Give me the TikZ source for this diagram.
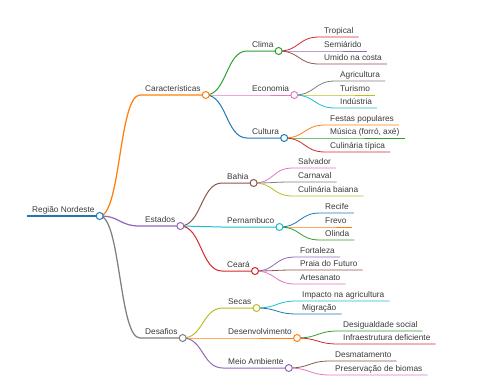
\documentclass[tikz,border=0pt]{standalone}
\usepackage{fontspec}
\setmainfont{Liberation Sans}
\usepackage{xcolor}
\usepackage{tikz}
\usetikzlibrary{positioning}
\definecolor{mmblue}{HTML}{1F77B4}
\definecolor{mmorange}{HTML}{FF7F0E}
\definecolor{mmgreen}{HTML}{2CA02C}
\definecolor{mmred}{HTML}{D62728}
\definecolor{mmpurple}{HTML}{9467BD}
\definecolor{mmbrown}{HTML}{8C564B}
\definecolor{mmpink}{HTML}{E377C2}
\definecolor{mmgray}{HTML}{7F7F7F}
\definecolor{mmolive}{HTML}{BCBD22}
\definecolor{mmcyan}{HTML}{17BECF}
\definecolor{txtgray}{HTML}{3A3A3A}
\tikzset{
  topic/.style={anchor=south west, inner xsep=5pt, inner ysep=0pt, text depth=3pt, text=txtgray, font=\fontsize{8.3}{10}\selectfont},
  rootline/.style={draw=#1, line width=1.6pt},
  branch/.style={draw=#1, line width=1.25pt},
  twig/.style={draw=#1, line width=1pt},
  leafline/.style={draw=#1, line width=0.8pt},
  knob/.style={circle, draw=#1, fill=white, line width=1pt, inner sep=0pt, minimum size=7pt}
}

\begin{document}
\begin{tikzpicture}[x=1pt, y=-1pt]
  \useasboundingbox (0,0) rectangle (480,384);

  % texts
  \node[topic] (regiao) at (27,216) {Região Nordeste};

  \node[topic] (carac) at (140,95) {Características};
  \node[topic] (estados) at (140,226) {Estados};
  \node[topic] (desafios) at (140,338) {Desafios};

  \node[topic] (clima) at (247,51) {Clima};
  \node[topic] (economia) at (247,95) {Economia};
  \node[topic] (cultura) at (247,138) {Cultura};
  \node[topic] (bahia) at (222,183) {Bahia};
  \node[topic] (pernambuco) at (222,227) {Pernambuco};
  \node[topic] (ceara) at (222,271) {Ceará};
  \node[topic] (secas) at (223,308) {Secas};
  \node[topic] (desenv) at (223,338) {Desenvolvimento};
  \node[topic] (meio) at (223,368) {Meio Ambiente};

  \node[topic] (tropical) at (319,37) {Tropical};
  \node[topic] (semiarido) at (319,51) {Semiárido};
  \node[topic] (umido) at (319,64) {Umido na costa};
  \node[topic] (agricultura) at (335,81) {Agricultura};
  \node[topic] (turismo) at (335,95) {Turismo};
  \node[topic] (industria) at (335,108) {Indústria};
  \node[topic] (festas) at (325,125) {Festas populares};
  \node[topic] (musica) at (325,138) {Música (forró, axé)};
  \node[topic] (culinaria) at (325,152) {Culinária típica};
  \node[topic] (salvador) at (293,168) {Salvador};
  \node[topic] (carnaval) at (293,182) {Carnaval};
  \node[topic] (culbaiana) at (293,196) {Culinária baiana};
  \node[topic] (recife) at (320,213) {Recife};
  \node[topic] (frevo) at (320,227) {Frevo};
  \node[topic] (olinda) at (320,240) {Olinda};
  \node[topic] (fortaleza) at (295,257) {Fortaleza};
  \node[topic] (praia) at (295,270) {Praia do Futuro};
  \node[topic] (artesanato) at (295,284) {Artesanato};
  \node[topic] (impacto) at (297,301) {Impacto na agricultura};
  \node[topic] (migracao) at (297,314) {Migração};
  \node[topic] (desigual) at (338,331) {Desigualdade social};
  \node[topic] (infra) at (338,344) {Infraestrutura deficiente};
  \node[topic] (desmat) at (330,361) {Desmatamento};
  \node[topic] (preserv) at (330,375) {Preservação de biomas};

  % links and underlines
  \draw[rootline=mmblue] (regiao.south west) -- (regiao.south east);

  \draw[branch=mmorange] (regiao.south east) .. controls +(21,0) and +(-21,0) .. (carac.south west) -- (carac.south east);
  \draw[branch=mmpurple] (regiao.south east) .. controls +(21,0) and +(-21,0) .. (estados.south west) -- (estados.south east);
  \draw[branch=mmgray] (regiao.south east) .. controls +(21,0) and +(-21,0) .. (desafios.south west) -- (desafios.south east);

  \draw[twig=mmgreen] (carac.south east) .. controls +(21,0) and +(-21,0) .. (clima.south west) -- (clima.south east);
  \draw[twig=mmpink] (carac.south east) .. controls +(21,0) and +(-21,0) .. (economia.south west) -- (economia.south east);
  \draw[twig=mmblue] (carac.south east) .. controls +(21,0) and +(-21,0) .. (cultura.south west) -- (cultura.south east);
  \draw[twig=mmbrown] (estados.south east) .. controls +(21,0) and +(-21,0) .. (bahia.south west) -- (bahia.south east);
  \draw[twig=mmcyan] (estados.south east) .. controls +(21,0) and +(-21,0) .. (pernambuco.south west) -- (pernambuco.south east);
  \draw[twig=mmred] (estados.south east) .. controls +(21,0) and +(-21,0) .. (ceara.south west) -- (ceara.south east);
  \draw[twig=mmolive] (desafios.south east) .. controls +(21,0) and +(-21,0) .. (secas.south west) -- (secas.south east);
  \draw[twig=mmorange] (desafios.south east) .. controls +(21,0) and +(-21,0) .. (desenv.south west) -- (desenv.south east);
  \draw[twig=mmpurple] (desafios.south east) .. controls +(21,0) and +(-21,0) .. (meio.south west) -- (meio.south east);

  \draw[leafline=mmred] (clima.south east) .. controls +(21,0) and +(-21,0) .. (tropical.south west) -- (tropical.south east);
  \draw[leafline=mmpurple] (clima.south east) .. controls +(21,0) and +(-21,0) .. (semiarido.south west) -- (semiarido.south east);
  \draw[leafline=mmbrown] (clima.south east) .. controls +(21,0) and +(-21,0) .. (umido.south west) -- (umido.south east);
  \draw[leafline=mmgray] (economia.south east) .. controls +(21,0) and +(-21,0) .. (agricultura.south west) -- (agricultura.south east);
  \draw[leafline=mmolive] (economia.south east) .. controls +(21,0) and +(-21,0) .. (turismo.south west) -- (turismo.south east);
  \draw[leafline=mmcyan] (economia.south east) .. controls +(21,0) and +(-21,0) .. (industria.south west) -- (industria.south east);
  \draw[leafline=mmorange] (cultura.south east) .. controls +(21,0) and +(-21,0) .. (festas.south west) -- (festas.south east);
  \draw[leafline=mmgreen] (cultura.south east) .. controls +(21,0) and +(-21,0) .. (musica.south west) -- (musica.south east);
  \draw[leafline=mmred] (cultura.south east) .. controls +(21,0) and +(-21,0) .. (culinaria.south west) -- (culinaria.south east);
  \draw[leafline=mmpink] (bahia.south east) .. controls +(21,0) and +(-21,0) .. (salvador.south west) -- (salvador.south east);
  \draw[leafline=mmgray] (bahia.south east) .. controls +(21,0) and +(-21,0) .. (carnaval.south west) -- (carnaval.south east);
  \draw[leafline=mmolive] (bahia.south east) .. controls +(21,0) and +(-21,0) .. (culbaiana.south west) -- (culbaiana.south east);
  \draw[leafline=mmblue] (pernambuco.south east) .. controls +(21,0) and +(-21,0) .. (recife.south west) -- (recife.south east);
  \draw[leafline=mmorange] (pernambuco.south east) .. controls +(21,0) and +(-21,0) .. (frevo.south west) -- (frevo.south east);
  \draw[leafline=mmgreen] (pernambuco.south east) .. controls +(21,0) and +(-21,0) .. (olinda.south west) -- (olinda.south east);
  \draw[leafline=mmpurple] (ceara.south east) .. controls +(21,0) and +(-21,0) .. (fortaleza.south west) -- (fortaleza.south east);
  \draw[leafline=mmbrown] (ceara.south east) .. controls +(21,0) and +(-21,0) .. (praia.south west) -- (praia.south east);
  \draw[leafline=mmpink] (ceara.south east) .. controls +(21,0) and +(-21,0) .. (artesanato.south west) -- (artesanato.south east);
  \draw[leafline=mmcyan] (secas.south east) .. controls +(21,0) and +(-21,0) .. (impacto.south west) -- (impacto.south east);
  \draw[leafline=mmblue] (secas.south east) .. controls +(21,0) and +(-21,0) .. (migracao.south west) -- (migracao.south east);
  \draw[leafline=mmgreen] (desenv.south east) .. controls +(21,0) and +(-21,0) .. (desigual.south west) -- (desigual.south east);
  \draw[leafline=mmred] (desenv.south east) .. controls +(21,0) and +(-21,0) .. (infra.south west) -- (infra.south east);
  \draw[leafline=mmbrown] (meio.south east) .. controls +(21,0) and +(-21,0) .. (desmat.south west) -- (desmat.south east);
  \draw[leafline=mmpink] (meio.south east) .. controls +(21,0) and +(-21,0) .. (preserv.south west) -- (preserv.south east);

  % circles on top
  \node[knob=mmblue] (regiao-k) at (regiao.south east) {};
  \node[knob=mmorange] (carac-k) at (carac.south east) {};
  \node[knob=mmpurple] (estados-k) at (estados.south east) {};
  \node[knob=mmgray] (desafios-k) at (desafios.south east) {};
  \node[knob=mmgreen] (clima-k) at (clima.south east) {};
  \node[knob=mmpink] (economia-k) at (economia.south east) {};
  \node[knob=mmblue] (cultura-k) at (cultura.south east) {};
  \node[knob=mmbrown] (bahia-k) at (bahia.south east) {};
  \node[knob=mmcyan] (pernambuco-k) at (pernambuco.south east) {};
  \node[knob=mmred] (ceara-k) at (ceara.south east) {};
  \node[knob=mmolive] (secas-k) at (secas.south east) {};
  \node[knob=mmorange] (desenv-k) at (desenv.south east) {};
  \node[knob=mmpurple] (meio-k) at (meio.south east) {};
\end{tikzpicture}
\end{document}
